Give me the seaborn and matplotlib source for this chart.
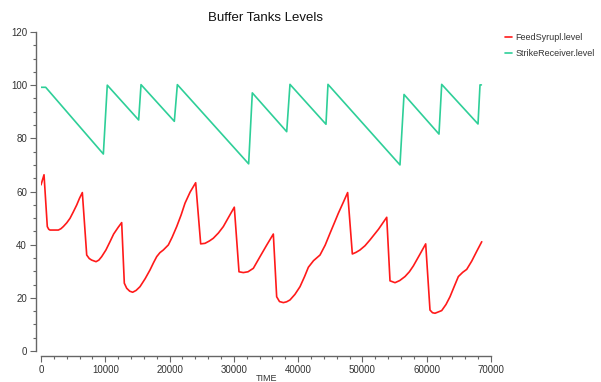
import numpy as np
import pandas as pd
import matplotlib
matplotlib.use("Agg")
import matplotlib.pyplot as plt
import seaborn as sns
from matplotlib.ticker import MultipleLocator

# FeedSyrupl.level (red)
t_feed = [0, 470, 980, 1200, 1400, 2700, 3100, 3470, 4000, 4510, 5000, 5550,
          6000, 6430, 7110, 7500, 7880, 8560, 9000, 9440, 10100, 10730, 11300,
          12000, 12550, 12960, 13330, 13800, 14260, 14800, 15400, 16200, 16960,
          17500, 18000, 18500, 19030, 19810, 20400, 21110, 21800, 22400, 23200,
          24060, 24840, 25510, 26200, 26800, 27600, 28360, 29200, 30070, 30800,
          31470, 32200, 33030, 34070, 35100, 36140, 36660, 37100, 37700, 38200,
          38730, 39500, 40290, 41000, 41590, 42400, 43400, 44200, 44960, 45600,
          46250, 47000, 47700, 48430, 49000, 49620, 50400, 51180, 52500, 53780,
          54290, 55070, 55800, 56620, 57300, 57920, 58900, 59840, 60510, 60900,
          61290, 62330, 63000, 63620, 64300, 64920, 65600, 66220, 67000, 67800,
          68560]
feed = [62.5, 66.3, 46.8, 45.8, 45.5, 45.5, 46.0, 46.8, 48.2, 49.9, 52.2, 54.9,
        57.5, 59.6, 36.1, 34.8, 34.2, 33.6, 34.2, 35.5, 38.0, 41.1, 44.0,
        46.5, 48.3, 25.5, 23.6, 22.5, 22.1, 22.8, 24.2, 27.2, 30.5,
        33.2, 35.5, 37.0, 38.0, 39.9, 42.8, 46.8, 51.2, 55.6, 59.8,
        63.3, 40.3, 40.5, 41.4, 42.4, 44.4, 46.8, 50.4, 54.1, 29.8,
        29.5, 29.8, 31.1, 35.5, 39.8, 44.0, 20.4, 18.6, 18.2, 18.5,
        19.2, 21.3, 24.2, 28.0, 31.5, 34.0, 36.1, 39.8, 44.3, 48.0,
        51.8, 55.8, 59.6, 36.5, 37.1, 38.0, 39.6, 41.8, 45.8, 50.3,
        26.4, 25.7, 26.5, 28.0, 29.8, 32.0, 36.2, 40.3, 15.4, 14.4,
        14.2, 15.2, 17.5, 20.4, 24.4, 28.0, 29.6, 30.7, 33.8, 37.6,
        41.1]

# StrikeReceiver.level (green)
t_strike = [0, 730, 9700, 10310, 15190, 15560, 20740, 21210, 32300, 32870,
            38220, 38730, 44330, 44640, 55840, 56470, 61910, 62330, 67980,
            68290, 68500]
strike = [99.2, 99.2, 74.1, 100.0, 86.9, 100.2, 86.4, 100.2, 70.4, 97.1,
          82.5, 100.3, 85.3, 100.3, 70.0, 96.5, 81.6, 100.3, 85.4,
          100.1, 100.1]

df = pd.concat([
    pd.DataFrame({"TIME": t_feed, "level": feed, "series": "FeedSyrupl.level"}),
    pd.DataFrame({"TIME": t_strike, "level": strike, "series": "StrikeReceiver.level"}),
], ignore_index=True)

sns.set_theme(style="ticks")
plt.rcParams["font.family"] = ["Liberation Sans", "DejaVu Sans"]

fig = plt.figure(figsize=(6.01, 3.82), dpi=100)
ax = fig.add_axes([41 / 601, 1 - 351 / 382, 450 / 601, 319 / 382])

palette = {"FeedSyrupl.level": "#ff1a1a", "StrikeReceiver.level": "#2ecf98"}
sns.lineplot(data=df, x="TIME", y="level", hue="series", palette=palette,
             linewidth=1.2, sort=False, estimator=None, ax=ax)

ax.set_xlim(0, 70000)
ax.set_ylim(0, 120)
ax.xaxis.set_major_locator(MultipleLocator(10000))
ax.xaxis.set_minor_locator(MultipleLocator(2000))
ax.yaxis.set_major_locator(MultipleLocator(20))
ax.yaxis.set_minor_locator(MultipleLocator(5))

sns.despine(ax=ax, offset=3.6)
for s in ["left", "bottom"]:
    ax.spines[s].set_color("#666666")
    ax.spines[s].set_linewidth(1.0)
ax.tick_params(which="major", length=4.5, width=0.8, color="#666666",
               labelsize=7, labelcolor="#333333", pad=2)
ax.tick_params(which="minor", length=2.5, width=0.8, color="#666666")

ax.set_xlabel("TIME", fontsize=6.5, color="#333333", labelpad=-1)
ax.set_ylabel("")
ax.set_title("Buffer Tanks Levels", fontsize=9.5, color="#111111", pad=8)

handles, labels = ax.get_legend_handles_labels()
ax.legend(handles, labels, loc="upper left", bbox_to_anchor=(502 / 601, 1 - 30 / 382),
          bbox_transform=fig.transFigure, frameon=False, fontsize=6.5,
          handlelength=0.8, handletextpad=0.4, labelspacing=0.85,
          labelcolor="#333333", borderaxespad=0, borderpad=0.3)

fig.savefig("out.png", dpi=100)
